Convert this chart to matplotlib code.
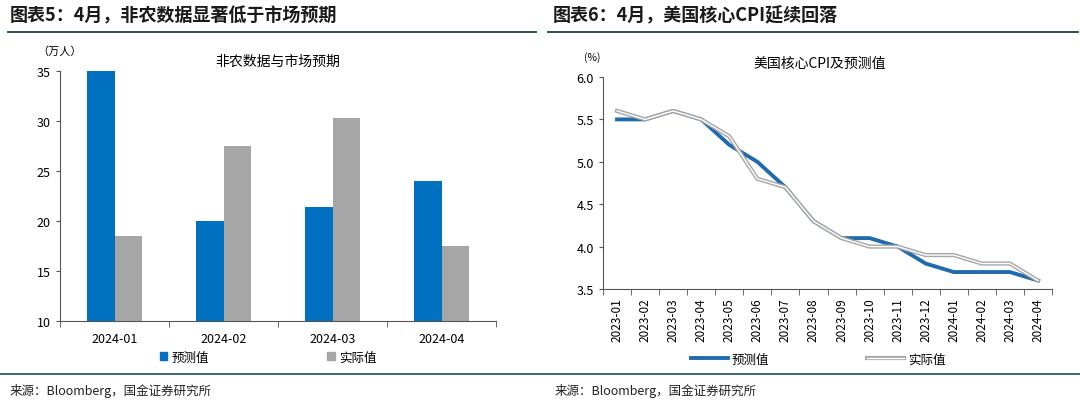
import matplotlib
matplotlib.use("Agg")
import matplotlib.pyplot as plt
from matplotlib.lines import Line2D
from matplotlib.patches import Patch
from matplotlib.legend_handler import HandlerTuple
import numpy as np

plt.rcParams['font.family'] = ['Noto Sans CJK SC', 'DejaVu Sans']

# ---- data ----
bar_cats = ["2024-01", "2024-02", "2024-03", "2024-04"]
bar_forecast = [35.0, 20.0, 21.4, 24.0]
bar_actual = [18.5, 27.5, 30.3, 17.5]

cpi_months = ["2023-01", "2023-02", "2023-03", "2023-04", "2023-05", "2023-06",
              "2023-07", "2023-08", "2023-09", "2023-10", "2023-11", "2023-12",
              "2024-01", "2024-02", "2024-03", "2024-04"]
cpi_forecast = [5.5, 5.5, 5.6, 5.5, 5.2, 5.0, 4.7, 4.3, 4.1, 4.1, 4.0, 3.8, 3.7, 3.7, 3.7, 3.6]
cpi_actual = [5.6, 5.5, 5.6, 5.5, 5.3, 4.8, 4.7, 4.3, 4.1, 4.0, 4.0, 3.9, 3.9, 3.8, 3.8, 3.6]

BLUE = "#0070C0"
LBLUE = "#1F6BAE"
GRAY = "#A6A6A6"
W, H = 1080, 406

fig = plt.figure(figsize=(W / 100, H / 100), dpi=100)

def fx(x): return x / W
def fy(y): return 1 - y / H

# titles and rules
fig.text(fx(10), fy(16), "图表5：4月，非农数据显著低于市场预期", fontsize=13, fontweight='bold',
         style='italic', va='center', ha='left', color='#1a1a1a')
fig.text(fx(553), fy(16), "图表6：4月，美国核心CPI延续回落", fontsize=13, fontweight='bold',
         style='italic', va='center', ha='left', color='#1a1a1a')
fig.add_artist(Line2D([fx(8), fx(536)], [fy(33), fy(33)], color='#1f3f4f', lw=1.3))
fig.add_artist(Line2D([fx(548), fx(1078)], [fy(33), fy(33)], color='#1f3f4f', lw=1.3))
fig.add_artist(Line2D([fx(0), fx(1080)], [fy(375), fy(375)], color='#2b5876', lw=1.3))
fig.text(fx(10), fy(391), "来源：Bloomberg，国金证券研究所", fontsize=9, va='center', ha='left', color='#222222')
fig.text(fx(555), fy(391), "来源：Bloomberg，国金证券研究所", fontsize=9, va='center', ha='left', color='#222222')

# ---- left bar chart ----
ax1 = fig.add_axes([fx(60), fy(322), fx(496) - fx(60), fy(72) - fy(322)])
x = np.arange(len(bar_cats))
bw = 0.25
ax1.bar(x - bw / 2, bar_forecast, bw, color=BLUE, label="预测值")
ax1.bar(x + bw / 2, bar_actual, bw, color=GRAY, label="实际值")
ax1.set_xlim(-0.5, len(bar_cats) - 0.5)
ax1.set_ylim(10, 35)
ax1.set_yticks(np.arange(10, 36, 5))
ax1.set_xticks(x)
ax1.set_xticklabels(bar_cats, fontsize=9)
ax1.set_xticks(np.arange(-0.5, len(bar_cats)), minor=True)
ax1.tick_params(axis='x', which='major', length=0, pad=8)
ax1.tick_params(axis='x', which='minor', length=4, direction='out', color='#555555')
ax1.tick_params(axis='y', length=3, direction='out', labelsize=9, color='#555555')
for s in ['top', 'right']:
    ax1.spines[s].set_visible(False)
for s in ['left', 'bottom']:
    ax1.spines[s].set_color('#555555')
ax1.text(0.5, 1.04, "非农数据与市场预期", transform=ax1.transAxes, ha='center', va='center', fontsize=10)
fig.text(fx(60), fy(52), "（万人）", fontsize=8, ha='center', va='center')
h1 = [Patch(color=BLUE), Patch(color=GRAY)]
fig.legend(h1, ["预测值", "实际值"], loc='center', bbox_to_anchor=(fx(268), fy(358)), ncol=2,
           frameon=False, fontsize=9, handlelength=0.6, handleheight=0.6, handletextpad=0.3,
           columnspacing=9.5)

# ---- right line chart ----
ax2 = fig.add_axes([fx(603), fy(290), fx(1052) - fx(603), fy(78) - fy(290)])
xi = np.arange(len(cpi_months))
ax2.plot(xi, cpi_forecast, color=LBLUE, lw=2.8, solid_joinstyle='round')
ax2.plot(xi, cpi_actual, color=GRAY, lw=3.0, solid_joinstyle='round')
ax2.plot(xi, cpi_actual, color='white', lw=1.0, solid_joinstyle='round')
ax2.set_xlim(-0.5, len(cpi_months) - 0.5)
ax2.set_ylim(3.5, 6.0)
ax2.set_yticks(np.arange(3.5, 6.01, 0.5))
ax2.set_yticklabels([f"{v:.1f}" for v in np.arange(3.5, 6.01, 0.5)], fontsize=9)
ax2.set_xticks(xi)
ax2.set_xticklabels(cpi_months, rotation=90, fontsize=8.5)
ax2.set_xticks(np.arange(-0.5, len(cpi_months)), minor=True)
ax2.tick_params(axis='x', which='major', length=0, pad=6)
ax2.tick_params(axis='x', which='minor', length=4, direction='out', color='#555555')
ax2.tick_params(axis='y', length=3, direction='out', color='#555555')
for s in ['top', 'right']:
    ax2.spines[s].set_visible(False)
for s in ['left', 'bottom']:
    ax2.spines[s].set_color('#555555')
fig.text(fx(820), fy(64), "美国核心CPI及预测值", fontsize=10, ha='center', va='center')
fig.text(fx(592), fy(58), "(%)", fontsize=7.5, ha='center', va='center')

h_f = Line2D([], [], color=LBLUE, lw=2.8)
h_a = Line2D([], [], color=GRAY, lw=3.0)
h_w = Line2D([], [], color='white', lw=1.0)
fig.legend([h_f, (h_a, h_w)], ["预测值", "实际值"], loc='center', bbox_to_anchor=(fx(818), fy(360)),
           ncol=2, frameon=False, fontsize=9, handlelength=3.0, handletextpad=0.3,
           columnspacing=7.8, handler_map={tuple: HandlerTuple(ndivide=1)})
fig.savefig("out.png", dpi=100)
